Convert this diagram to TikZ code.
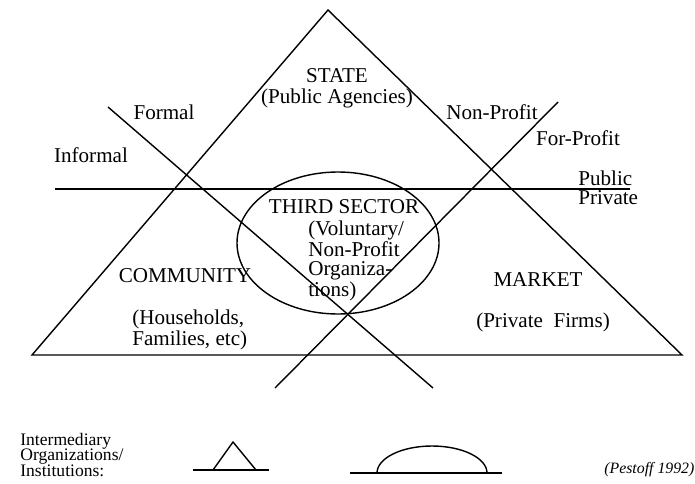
\documentclass[tikz,border=0pt]{standalone}
\usepackage{fontspec}
\setmainfont{Liberation Serif}

\tikzset{
	lbl/.style={inner sep=0pt, font=\fontsize{12}{10.6}\selectfont},
	keylbl/.style={inner sep=0pt, align=left, font=\fontsize{10}{9}\selectfont},
	rule/.style={line width=0.8pt},
}

\begin{document}
\begin{tikzpicture}[x=0.02cm, y=-0.02cm]
			%%%%% START %%%%%
			\useasboundingbox (0,0) rectangle (695,483);
			
			% big triangle
			\coordinate (apex) at (328,10);
			\coordinate (baseW) at (32,355);
			\coordinate (baseE) at (682,355);
			\draw[rule] (baseW) -- (apex) -- (baseE) -- cycle;
			
			% public / private divide
			\coordinate (pubW) at (55,189);
			\coordinate (pubE) at (630,189);
			\draw[rule] (pubW) -- (pubE);
			
			% formal / informal divide
			\coordinate (formN) at (108,107);
			\coordinate (formS) at (433,388);
			\draw[rule] (formN) -- (formS);
			
			% non-profit / for-profit divide
			\coordinate (profN) at (558,102);
			\coordinate (profS) at (275,388);
			\draw[rule] (profN) -- (profS);
			
			% third sector
			\draw[rule] (338,243) ellipse (101 and 71);
			
			\node[lbl] (state) at (337,76) {STATE};
			\node[lbl] (agencies) at (337,98) {(Public Agencies)};
			\node[lbl] (formal) at (164,112) {Formal};
			\node[lbl] (informal) at (91,155) {Informal};
			\node[lbl] (nonprofit) at (492,112) {Non-Profit};
			\node[lbl] (forprofit) at (578,138) {For-Profit};
			\node[lbl, anchor=west] (public) at (578,178) {Public};
			\node[lbl, anchor=west] (private) at (578,198) {Private};
			
			\node[lbl] (third) at (344,207) {THIRD SECTOR};
			\node[lbl, anchor=west, align=left] (voluntary) at (308,261) {(Voluntary/\\Non-Profit\\Organiza-\\tions)};
			
			\node[lbl] (community) at (185,276) {COMMUNITY};
			\node[lbl, anchor=west, align=left] (households) at (132,330) {(Households,\\Families, etc)};
			
			\node[lbl] (market) at (538,280) {MARKET};
			\node[lbl] (firms) at (543,322) {(Private\ \ Firms)};
			
			% key
			\node[keylbl, anchor=west] (intermediary) at (20,455) {Intermediary\\Organizations/\\Institutions:};
			
			\coordinate (triW) at (193,470);
			\coordinate (triE) at (269,470);
			\draw[rule] (triW) -- (triE);
			\draw[rule] (213,470) -- (233,442) -- (256,470);
			
			\coordinate (domeW) at (350,473);
			\coordinate (domeE) at (502,473);
			\draw[rule] (domeW) -- (domeE);
			\draw[rule] (377,473) arc (180:360:55 and 27);
			
			\node[inner sep=0pt, anchor=west, font=\fontsize{9}{11}\selectfont\itshape] (source) at (604,470) {(Pestoff 1992)};
			
			%%%%% END %%%%%
\end{tikzpicture}
\end{document}
